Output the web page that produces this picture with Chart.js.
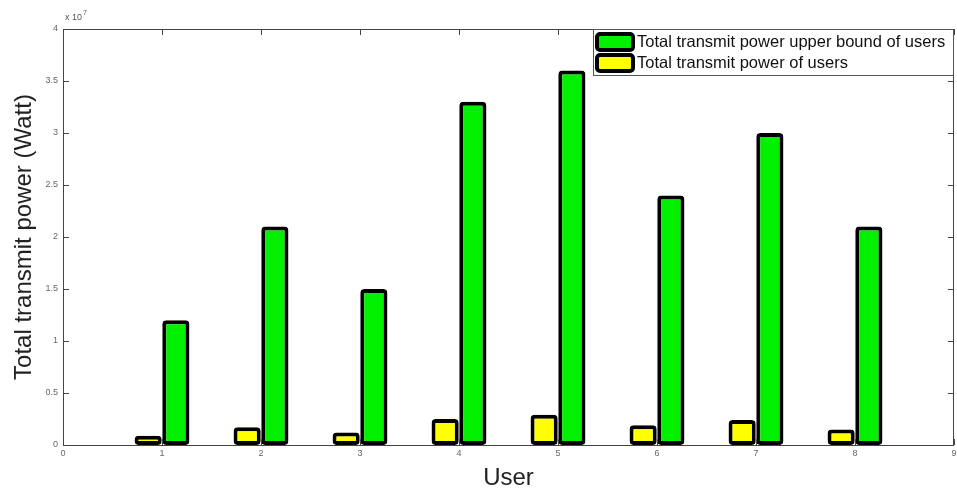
<!DOCTYPE html>
<html>
<head>
<meta charset="utf-8">
<script src="https://cdn.jsdelivr.net/npm/chart.js@4/dist/chart.umd.min.js"></script>
<style>
html,body{margin:0;padding:0;background:#fff;}
#wrap{width:957px;height:493px;position:relative;}
</style>
</head>
<body>
<div id="wrap"><canvas id="c" width="957" height="493"></canvas></div>
<script>
const users = [1, 2, 3, 4, 5, 6, 7, 8];
const powerUsers = [0.09e7, 0.17e7, 0.12e7, 0.25e7, 0.29e7, 0.19e7, 0.24e7, 0.15e7];
const upperBound = [1.2e7, 2.1e7, 1.5e7, 3.3e7, 3.6e7, 2.4e7, 3.0e7, 2.1e7];
const xTicks = [0, 1, 2, 3, 4, 5, 6, 7, 8, 9];
const yTicks = [0, 0.5e7, 1e7, 1.5e7, 2e7, 2.5e7, 3e7, 3.5e7, 4e7];
const legendLabels = ['Total transmit power upper bound of users', 'Total transmit power of users'];
const xTitle = 'User';
const yTitle = 'Total transmit power (Watt)';
const GREEN = '#00f000', YELLOW = '#ffff00';

const framePlugin = {
  id: 'frame',
  afterDraw(chart) {
    const {ctx, chartArea: a, scales} = chart;
    ctx.save();
    ctx.strokeStyle = '#444';
    ctx.lineWidth = 1;
    ctx.strokeRect(a.left + 0.5, a.top + 0.5, a.right - a.left - 1, a.bottom - a.top);
    ctx.beginPath();
    yTicks.forEach(v => {
      const y = Math.round(scales.y.getPixelForValue(v)) + 0.5;
      ctx.moveTo(a.left, y); ctx.lineTo(a.left + 6, y);
      ctx.moveTo(a.right, y); ctx.lineTo(a.right - 6, y);
    });
    xTicks.forEach(v => {
      const x = Math.round(scales.x.getPixelForValue(v)) + 0.5;
      ctx.moveTo(x, a.bottom); ctx.lineTo(x, a.bottom - 6);
      ctx.moveTo(x, a.top); ctx.lineTo(x, a.top + 6);
    });
    ctx.stroke();
    ctx.fillStyle = '#555';
    ctx.font = '9px Arial, "Liberation Sans", sans-serif';
    ctx.textBaseline = 'alphabetic';
    ctx.fillText('x 10', a.left + 2, a.top - 9);
    ctx.font = '7px Arial, "Liberation Sans", sans-serif';
    ctx.fillText('7', a.left + 20, a.top - 14);
    // legend
    const lx = 593, ly = a.top, lw = a.right - lx, lh = 46;
    ctx.fillStyle = '#fff';
    ctx.fillRect(lx, ly, lw, lh);
    ctx.lineWidth = 1;
    ctx.strokeStyle = '#555';
    ctx.strokeRect(lx + 0.5, ly + 0.5, lw - 1, lh);
    const colors = [GREEN, YELLOW];
    legendLabels.forEach((t, i) => {
      const sy = ly + 4 + i * 21;
      ctx.beginPath();
      ctx.roundRect(597, sy + 1, 36, 16, 3);
      ctx.fillStyle = colors[i];
      ctx.fill();
      ctx.lineWidth = 4;
      ctx.strokeStyle = '#000';
      ctx.stroke();
      ctx.fillStyle = '#111';
      ctx.font = '16.5px Arial, "Liberation Sans", sans-serif';
      ctx.textBaseline = 'middle';
      ctx.fillText(t, 637, sy + 9.5);
    });
    ctx.restore();
  }
};

new Chart(document.getElementById('c'), {
  type: 'bar',
  data: {
    datasets: [
      {
        label: legendLabels[1],
        data: users.map((u, i) => ({x: u, y: powerUsers[i]})),
        backgroundColor: YELLOW,
        borderColor: '#000',
        borderWidth: 4,
        borderRadius: 4,
        borderSkipped: false,
        categoryPercentage: 0.56,
        barPercentage: 0.98
      },
      {
        label: legendLabels[0],
        data: users.map((u, i) => ({x: u, y: upperBound[i]})),
        backgroundColor: GREEN,
        borderColor: '#000',
        borderWidth: 4,
        borderRadius: 4,
        borderSkipped: false,
        categoryPercentage: 0.56,
        barPercentage: 0.98
      }
    ]
  },
  plugins: [framePlugin],
  options: {
    responsive: false,
    animation: false,
    events: [],
    layout: {padding: {left: 0, top: 29, right: 3, bottom: 0}},
    plugins: {legend: {display: false}, tooltip: {enabled: false}},
    scales: {
      x: {
        type: 'linear',
        min: 0, max: 9,
        offset: false,
        afterBuildTicks: s => { s.ticks = xTicks.map(v => ({value: v})); },
        afterFit: s => { s.height = 48; s.paddingRight = 0; s.paddingLeft = 0; },
        grid: {display: false, drawTicks: false},
        border: {display: false},
        ticks: {color: '#666', font: {size: 9, family: 'Arial'}, padding: 3, maxRotation: 0, autoSkip: false},
        title: {display: true, text: xTitle, color: '#222', font: {size: 24, family: 'Arial'}, padding: {top: 2, bottom: 0}}
      },
      y: {
        min: 0, max: 4e7,
        afterBuildTicks: s => { s.ticks = yTicks.map(v => ({value: v})); },
        afterFit: s => { s.width = 63; s.paddingTop = 0; s.paddingBottom = 0; },
        grid: {display: false, drawTicks: false},
        border: {display: false},
        ticks: {color: '#666', font: {size: 9, family: 'Arial'}, padding: 5, callback: v => String(v / 1e7)},
        title: {display: true, text: yTitle, color: '#222', font: {size: 24, family: 'Arial'}, padding: {top: 10, bottom: 0}}
      }
    }
  }
});
</script>
</body>
</html>
